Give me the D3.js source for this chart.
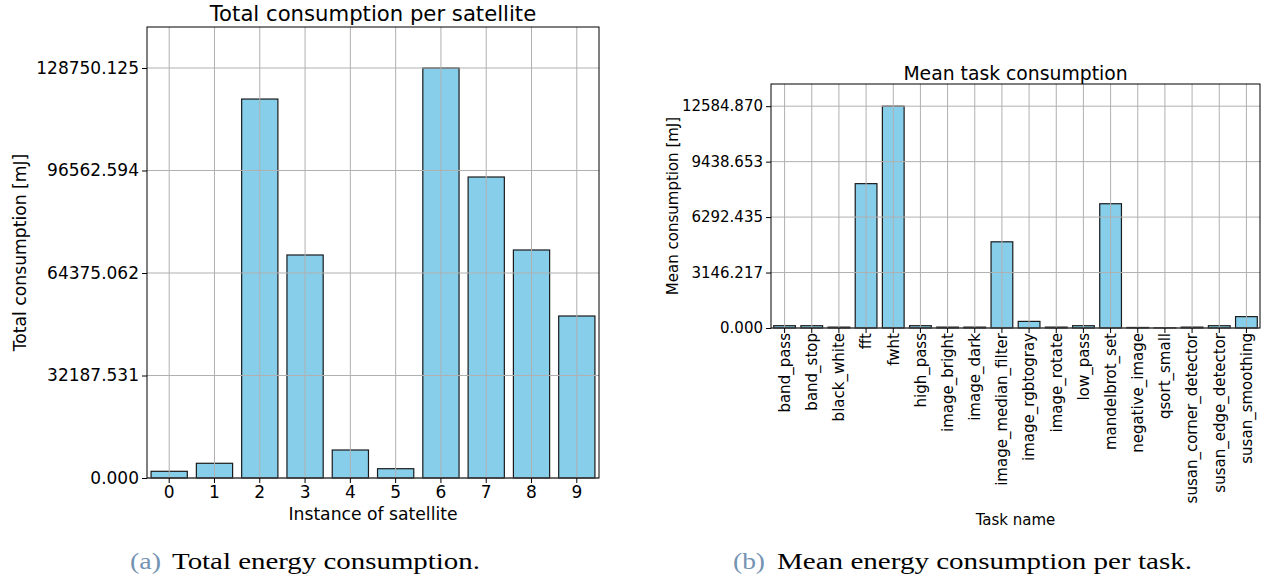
<!DOCTYPE html>
<html>
<head>
<meta charset="utf-8">
<script src="https://cdn.jsdelivr.net/npm/d3@7"></script>
<style>
  body { margin: 0; background: #fff; }
  text { font-family: "DejaVu Sans", sans-serif; fill: #000; }
  .caption text { font-family: "Liberation Serif", serif; }
</style>
</head>
<body>
<script>
// Chart data
const satellites = ["0", "1", "2", "3", "4", "5", "6", "7", "8", "9"];
const totalConsumption = [2100, 4620, 119000, 70030, 8790, 2920, 128750.125, 94520, 71600, 50870];
const totalTicks = ["0.000", "32187.531", "64375.062", "96562.594", "128750.125"];

const tasks = ["band_pass", "band_stop", "black_white", "fft", "fwht", "high_pass",
  "image_bright", "image_dark", "image_median_filter", "image_rgbtogray", "image_rotate",
  "low_pass", "mandelbrot_set", "negative_image", "qsort_small", "susan_corner_detector",
  "susan_edge_detector", "susan_smoothing"];
const meanConsumption = [130, 130, 50, 8190, 12584.87, 130, 50, 50, 4890, 375, 50, 130, 7050, 30, 10, 50, 130, 645];
const meanTicks = ["0.000", "3146.217", "6292.435", "9438.653", "12584.870"];

const captionTags = ["(a)", "(b)"];
const captionTexts = ["Total energy consumption.", "Mean energy consumption per task."];

const width = 1273, height = 581;

const svg = d3.select("body").append("svg")
    .attr("width", width)
    .attr("height", height);

svg.append("rect").attr("width", width).attr("height", height).attr("fill", "#fff");

// draw one bar panel
function drawPanel(cfg) {
    const g = svg.append("g");
    const x = d3.scaleBand()
        .domain(cfg.categories)
        .range([cfg.left, cfg.right])
        .paddingInner(0.2)
        .paddingOuter(cfg.outer);
    const yMax = d3.max(cfg.values) * 1.1;
    const y = d3.scaleLinear().domain([0, yMax]).range([cfg.bottom, cfg.top]);
    const tickVals = cfg.ticks.map(Number);

    // bars
    g.selectAll("rect.bar")
        .data(cfg.values)
        .enter().append("rect")
        .attr("class", "bar")
        .attr("x", (d, i) => x(cfg.categories[i]))
        .attr("width", x.bandwidth())
        .attr("y", d => y(d))
        .attr("height", d => y(0) - y(d))
        .attr("fill", "#87ceeb")
        .attr("stroke", "#1a1a1a")
        .attr("stroke-width", 1.2);

    // grid on top of bars
    g.selectAll("line.vgrid")
        .data(cfg.categories)
        .enter().append("line")
        .attr("x1", d => x(d) + x.bandwidth() / 2)
        .attr("x2", d => x(d) + x.bandwidth() / 2)
        .attr("y1", cfg.top).attr("y2", cfg.bottom)
        .attr("stroke", "#b0b0b0").attr("stroke-width", 1);
    g.selectAll("line.hgrid")
        .data(tickVals)
        .enter().append("line")
        .attr("x1", cfg.left).attr("x2", cfg.right)
        .attr("y1", d => y(d)).attr("y2", d => y(d))
        .attr("stroke", "#b0b0b0").attr("stroke-width", 1);

    // frame
    g.append("rect")
        .attr("x", cfg.left).attr("y", cfg.top)
        .attr("width", cfg.right - cfg.left).attr("height", cfg.bottom - cfg.top)
        .attr("fill", "none").attr("stroke", "#000").attr("stroke-width", 1);

    // y axis
    const yAxis = g.append("g")
        .attr("transform", `translate(${cfg.left},0)`)
        .call(d3.axisLeft(y).tickValues(tickVals).tickSize(5).tickPadding(3)
            .tickFormat((d, i) => cfg.ticks[i]));
    yAxis.select(".domain").remove();
    yAxis.selectAll("text").style("font-size", cfg.tickFont + "px");

    // x axis
    const xAxis = g.append("g")
        .attr("transform", `translate(0,${cfg.bottom})`)
        .call(d3.axisBottom(x).tickSize(5).tickPadding(3));
    xAxis.select(".domain").remove();
    xAxis.selectAll("text").style("font-size", cfg.tickFont + "px");
    if (cfg.rotate) {
        xAxis.selectAll("text")
            .attr("transform", "rotate(-90)")
            .attr("text-anchor", "end")
            .attr("x", -5)
            .attr("y", 0)
            .attr("dy", "0.35em");
    }

    // title and labels
    g.append("text")
        .attr("x", (cfg.left + cfg.right) / 2).attr("y", cfg.titleY)
        .attr("text-anchor", "middle")
        .style("font-size", cfg.titleFont + "px")
        .text(cfg.title);
    g.append("text")
        .attr("x", (cfg.left + cfg.right) / 2).attr("y", cfg.xLabelY)
        .attr("text-anchor", "middle")
        .style("font-size", cfg.labelFont + "px")
        .text(cfg.xLabel);
    g.append("text")
        .attr("transform", `translate(${cfg.yLabelX},${(cfg.top + cfg.bottom) / 2}) rotate(-90)`)
        .attr("text-anchor", "middle")
        .style("font-size", cfg.labelFont + "px")
        .text(cfg.yLabel);
}

drawPanel({
    categories: satellites, values: totalConsumption, ticks: totalTicks,
    left: 147, right: 599, top: 27, bottom: 478, outer: 0.09,
    tickFont: 17, labelFont: 17.2, titleFont: 21.2,
    title: "Total consumption per satellite", titleY: 21,
    xLabel: "Instance of satellite", xLabelY: 520,
    yLabel: "Total consumption [mJ]", yLabelX: 26
});

drawPanel({
    categories: tasks, values: meanConsumption, ticks: meanTicks,
    left: 771, right: 1260, top: 84, bottom: 328, outer: 0.1,
    tickFont: 15, labelFont: 15, titleFont: 18.8, rotate: true,
    title: "Mean task consumption", titleY: 80,
    xLabel: "Task name", xLabelY: 525,
    yLabel: "Mean consumption [mJ]", yLabelX: 678
});

// captions (tag in blue-grey, text in black)
const caps = svg.append("g").attr("class", "caption");
const capLayout = [
    { tagX: 130, tagW: 31, textX: 172, textW: 308 },
    { tagX: 733, tagW: 32, textX: 777, textW: 415 }
];
capLayout.forEach((c, i) => {
    caps.append("text")
        .attr("x", c.tagX).attr("y", 569)
        .attr("textLength", c.tagW).attr("lengthAdjust", "spacingAndGlyphs")
        .style("font-size", "24px")
        .style("fill", "#7393b3")
        .text(captionTags[i]);
    caps.append("text")
        .attr("x", c.textX).attr("y", 569)
        .attr("textLength", c.textW).attr("lengthAdjust", "spacingAndGlyphs")
        .style("font-size", "24px")
        .text(captionTexts[i]);
});
</script>
</body>
</html>
